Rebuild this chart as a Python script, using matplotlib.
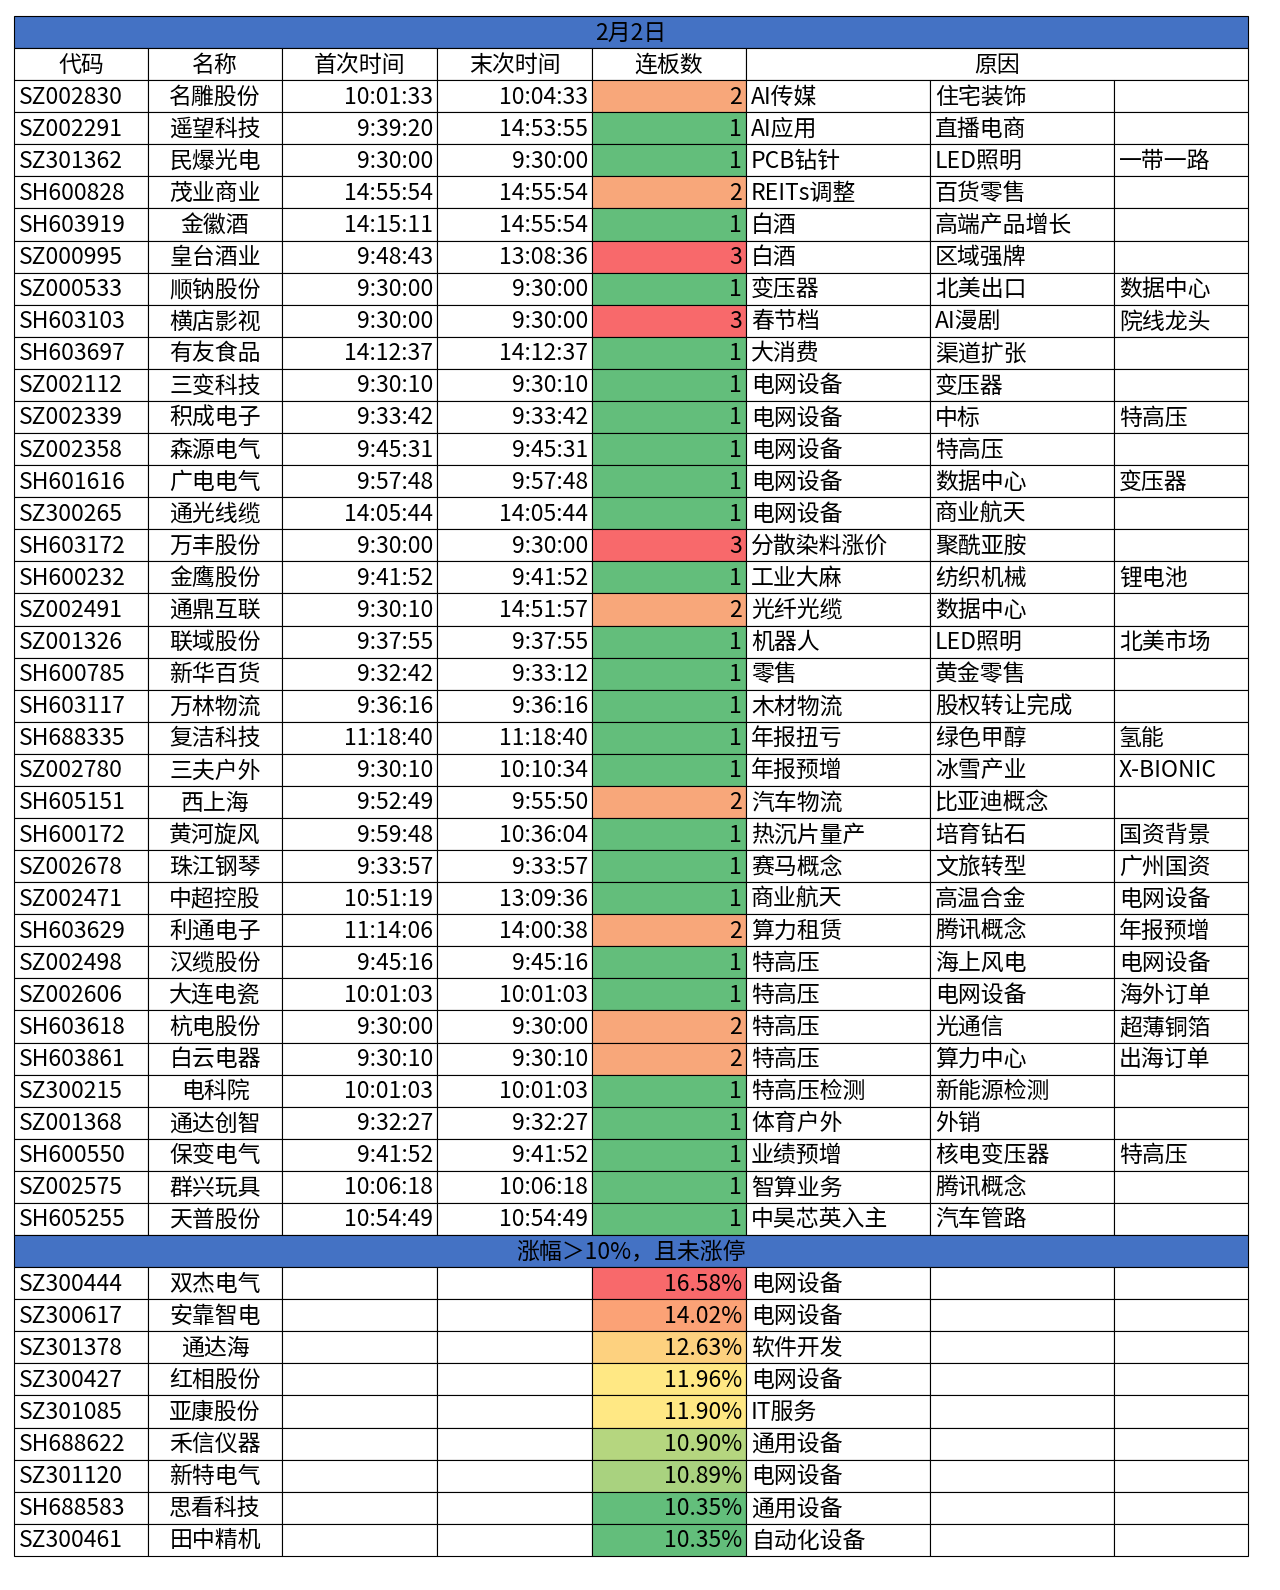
import matplotlib
matplotlib.use("Agg")
import matplotlib.pyplot as plt
from matplotlib.patches import Rectangle

plt.rcParams['font.family'] = ['Noto Sans CJK SC', 'DejaVu Sans']

# --- data ---
title = "2月2日"
headers = ["代码", "名称", "首次时间", "末次时间", "连板数", "原因"]
codes = ["SZ002830", "SZ002291", "SZ301362", "SH600828", "SH603919", "SZ000995", "SZ000533",
         "SH603103", "SH603697", "SZ002112", "SZ002339", "SZ002358", "SH601616", "SZ300265",
         "SH603172", "SH600232", "SZ002491", "SZ001326", "SH600785", "SH603117", "SH688335",
         "SZ002780", "SH605151", "SH600172", "SZ002678", "SZ002471", "SH603629", "SZ002498",
         "SZ002606", "SH603618", "SH603861", "SZ300215", "SZ001368", "SH600550", "SZ002575",
         "SH605255"]
names = ["名雕股份", "遥望科技", "民爆光电", "茂业商业", "金徽酒", "皇台酒业", "顺钠股份",
         "横店影视", "有友食品", "三变科技", "积成电子", "森源电气", "广电电气", "通光线缆",
         "万丰股份", "金鹰股份", "通鼎互联", "联域股份", "新华百货", "万林物流", "复洁科技",
         "三夫户外", "西上海", "黄河旋风", "珠江钢琴", "中超控股", "利通电子", "汉缆股份",
         "大连电瓷", "杭电股份", "白云电器", "电科院", "通达创智", "保变电气", "群兴玩具",
         "天普股份"]
first_time = ["10:01:33", "9:39:20", "9:30:00", "14:55:54", "14:15:11", "9:48:43", "9:30:00",
              "9:30:00", "14:12:37", "9:30:10", "9:33:42", "9:45:31", "9:57:48", "14:05:44",
              "9:30:00", "9:41:52", "9:30:10", "9:37:55", "9:32:42", "9:36:16", "11:18:40",
              "9:30:10", "9:52:49", "9:59:48", "9:33:57", "10:51:19", "11:14:06", "9:45:16",
              "10:01:03", "9:30:00", "9:30:10", "10:01:03", "9:32:27", "9:41:52", "10:06:18",
              "10:54:49"]
last_time = ["10:04:33", "14:53:55", "9:30:00", "14:55:54", "14:55:54", "13:08:36", "9:30:00",
             "9:30:00", "14:12:37", "9:30:10", "9:33:42", "9:45:31", "9:57:48", "14:05:44",
             "9:30:00", "9:41:52", "14:51:57", "9:37:55", "9:33:12", "9:36:16", "11:18:40",
             "10:10:34", "9:55:50", "10:36:04", "9:33:57", "13:09:36", "14:00:38", "9:45:16",
             "10:01:03", "9:30:00", "9:30:10", "10:01:03", "9:32:27", "9:41:52", "10:06:18",
             "10:54:49"]
boards = [2, 1, 1, 2, 1, 3, 1, 3, 1, 1, 1, 1, 1, 1, 3, 1, 2, 1, 1, 1, 1, 1, 2, 1, 1, 1, 2, 1,
          1, 2, 2, 1, 1, 1, 1, 1]
reason1 = ["AI传媒", "AI应用", "PCB钻针", "REITs调整", "白酒", "白酒", "变压器", "春节档", "大消费",
           "电网设备", "电网设备", "电网设备", "电网设备", "电网设备", "分散染料涨价", "工业大麻",
           "光纤光缆", "机器人", "零售", "木材物流", "年报扭亏", "年报预增", "汽车物流", "热沉片量产",
           "赛马概念", "商业航天", "算力租赁", "特高压", "特高压", "特高压", "特高压", "特高压检测",
           "体育户外", "业绩预增", "智算业务", "中昊芯英入主"]
reason2 = ["住宅装饰", "直播电商", "LED照明", "百货零售", "高端产品增长", "区域强牌", "北美出口",
           "AI漫剧", "渠道扩张", "变压器", "中标", "特高压", "数据中心", "商业航天", "聚酰亚胺",
           "纺织机械", "数据中心", "LED照明", "黄金零售", "股权转让完成", "绿色甲醇", "冰雪产业",
           "比亚迪概念", "培育钻石", "文旅转型", "高温合金", "腾讯概念", "海上风电", "电网设备",
           "光通信", "算力中心", "新能源检测", "外销", "核电变压器", "腾讯概念", "汽车管路"]
reason3 = ["", "", "一带一路", "", "", "", "数据中心", "院线龙头", "", "", "特高压", "", "变压器",
           "", "", "锂电池", "", "北美市场", "", "", "氢能", "X-BIONIC", "", "国资背景", "广州国资",
           "电网设备", "年报预增", "电网设备", "海外订单", "超薄铜箔", "出海订单", "", "", "特高压",
           "", ""]

sub_title = "涨幅＞10%，且未涨停"
up_codes = ["SZ300444", "SZ300617", "SZ301378", "SZ300427", "SZ301085", "SH688622", "SZ301120",
            "SH688583", "SZ300461"]
up_names = ["双杰电气", "安靠智电", "通达海", "红相股份", "亚康股份", "禾信仪器", "新特电气",
            "思看科技", "田中精机"]
up_pct = [16.58, 14.02, 12.63, 11.96, 11.90, 10.90, 10.89, 10.35, 10.35]
up_reason = ["电网设备", "电网设备", "软件开发", "电网设备", "IT服务", "通用设备", "电网设备",
             "通用设备", "自动化设备"]
up_colors = ["#F8696B", "#FBA276", "#FDD17F", "#FFE884", "#FFE884", "#B5D67F", "#A9D27F",
             "#63BE7B", "#63BE7B"]

# --- layout (pixels) ---
col_x = [14, 148, 282, 437, 592, 746, 930, 1114, 1248]
top = 16
rh = 32.08
board_colors = {1: "#63BE7B", 2: "#F8A77A", 3: "#F8696B"}
blue = "#4472C4"
fs = 16.5

fig = plt.figure(figsize=(12.8, 15.9), dpi=100)
ax = fig.add_axes([0, 0, 1, 1])
ax.set_xlim(0, 1280)
ax.set_ylim(1590, 0)
ax.axis("off")


def cell(c0, c1, r, text="", color=None, ha="center"):
    x0, x1 = col_x[c0], col_x[c1]
    y0 = top + r * rh
    ax.add_patch(Rectangle((x0, y0), x1 - x0, rh, facecolor=color or "white",
                           edgecolor="black", linewidth=0.8))
    if text != "":
        tx = {"left": x0 + 5, "center": (x0 + x1) / 2, "right": x1 - 4}[ha]
        ax.text(tx, y0 + rh / 2 + 1, text, ha=ha, va="center", fontsize=fs, color="black")


cell(0, 8, 0, title, blue)
for i, h in enumerate(headers[:5]):
    cell(i, i + 1, 1, h)
cell(5, 8, 1, headers[5])

for i in range(len(codes)):
    r = i + 2
    cell(0, 1, r, codes[i], ha="left")
    cell(1, 2, r, names[i])
    cell(2, 3, r, first_time[i], ha="right")
    cell(3, 4, r, last_time[i], ha="right")
    cell(4, 5, r, str(boards[i]), board_colors[boards[i]], ha="right")
    cell(5, 6, r, reason1[i], ha="left")
    cell(6, 7, r, reason2[i], ha="left")
    cell(7, 8, r, reason3[i], ha="left")

r0 = len(codes) + 2
cell(0, 8, r0, sub_title, blue)
for i in range(len(up_codes)):
    r = r0 + 1 + i
    cell(0, 1, r, up_codes[i], ha="left")
    cell(1, 2, r, up_names[i])
    cell(2, 3, r)
    cell(3, 4, r)
    cell(4, 5, r, f"{up_pct[i]:.2f}%", up_colors[i], ha="right")
    cell(5, 6, r, up_reason[i], ha="left")
    cell(6, 7, r)
    cell(7, 8, r)

fig.savefig("out.png", dpi=100, facecolor="white")
